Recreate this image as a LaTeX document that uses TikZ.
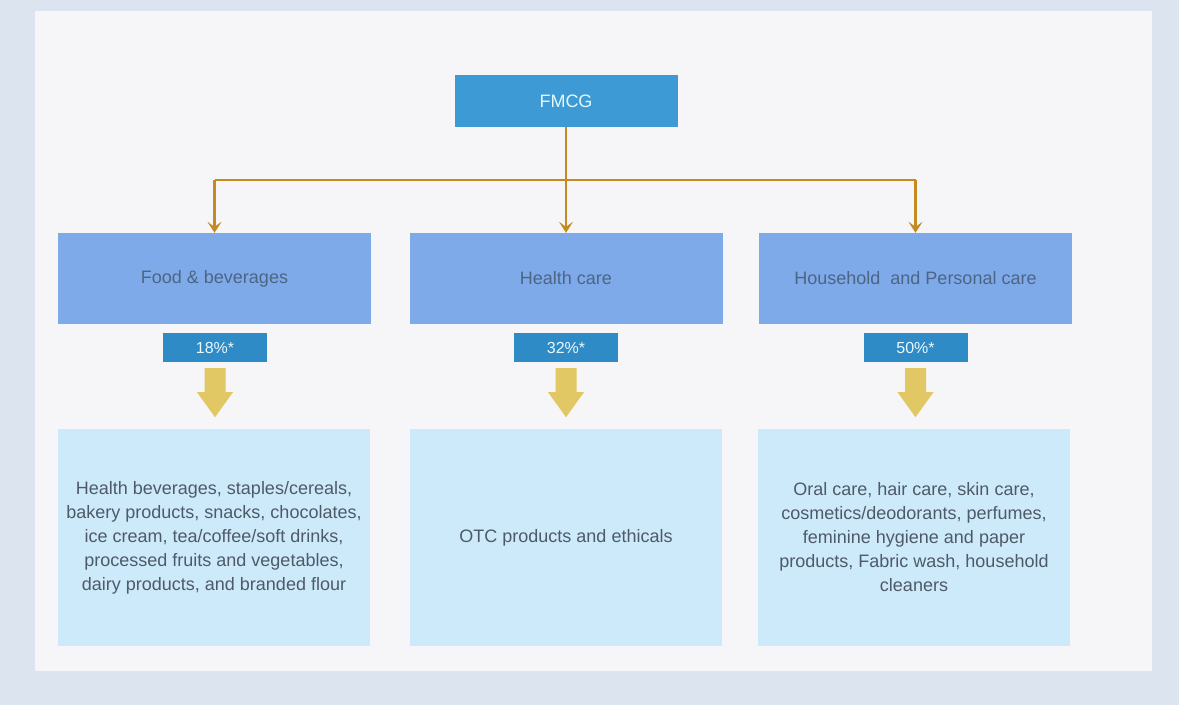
\documentclass[tikz,border=0pt]{standalone}
\usepackage{fontspec}
\setmainfont{Liberation Sans}
\usetikzlibrary{arrows.meta,calc}
\definecolor{outerbg}{HTML}{DCE4F0}
\definecolor{innerbg}{HTML}{F6F6F8}
\definecolor{topblue}{HTML}{3D9AD4}
\definecolor{catblue}{HTML}{7FAAEA}
\definecolor{pctblue}{HTML}{2E8BC6}
\definecolor{descblue}{HTML}{CDEAFB}
\definecolor{gold}{HTML}{C38B22}
\definecolor{yarrow}{HTML}{E2C864}
\definecolor{cattext}{HTML}{4C6585}
\definecolor{desctext}{HTML}{4E5A68}
\tikzset{
  topbox/.style={fill=topblue, minimum width=223pt, minimum height=52pt, inner sep=0pt,
    text=white!90!cyan, font=\fontsize{18}{20}\selectfont},
  catbox/.style={fill=catblue, minimum width=313pt, minimum height=91pt, inner sep=0pt,
    text=cattext, font=\fontsize{18}{20}\selectfont},
  pctbox/.style={fill=pctblue, minimum width=104pt, minimum height=29pt, inner sep=0pt,
    text=white!92!cyan, font=\fontsize{16}{18}\selectfont},
  descbox/.style={fill=descblue, minimum width=312pt, minimum height=217pt, inner sep=0pt,
    text=desctext, align=center, font=\fontsize{18}{24}\selectfont},
  conn/.style={draw=gold, line width=2.6pt},
  connarrow/.style={conn, -{Stealth[length=11pt,width=14pt,inset=5pt]}},
  blockarrow/.style={fill=yarrow, draw=none}
}
\begin{document}
\begin{tikzpicture}[x=1pt,y=-1pt]
\fill[outerbg] (0,0) rectangle (1179,705);
\useasboundingbox (0,0) rectangle (1179,705);
\fill[innerbg] (35,11) rectangle (1152,671);

\node[topbox] (fmcg) at (566,101) {FMCG};

\node[catbox] (fb) at (214.5,278.5) {Food \& beverages};
\node[catbox] (hc) at (566,278.5) {Health care};
\node[catbox] (hp) at (915.5,278.5) {Household\ \ and Personal care};

\node[pctbox] (p1) at (215,347.5) {18\%*};
\node[pctbox] (p2) at (566,347.5) {32\%*};
\node[pctbox] (p3) at (915.5,347.5) {50\%*};

\node[descbox] (d1) at (214,537.5) {Health beverages, staples/cereals,\\bakery products, snacks, chocolates,\\ice cream, tea/coffee/soft drinks,\\processed fruits and vegetables,\\dairy products, and branded flour};
\node[descbox] (d2) at (566,537.5) {OTC products and ethicals};
\node[descbox] (d3) at (914,537.5) {Oral care, hair care, skin care,\\cosmetics/deodorants, perfumes,\\feminine hygiene and paper\\products, Fabric wash, household\\cleaners};

\coordinate (j) at (566,180);
\draw[conn] (fmcg.south) -- (j);
\draw[conn] (fb.north |- j) -- (hp.north |- j);
\draw[connarrow] (fb.north |- j) -- (fb.north);
\draw[connarrow] (j) -- (hc.north);
\draw[connarrow] (hp.north |- j) -- (hp.north);

\foreach \p in {p1,p2,p3}{
  \fill[blockarrow] ($(\p.south)+(-10.5,6)$) -- ($(\p.south)+(10.5,6)$) -- ($(\p.south)+(10.5,30)$)
    -- ($(\p.south)+(18,30)$) -- ($(\p.south)+(0,55)$) -- ($(\p.south)+(-18,30)$)
    -- ($(\p.south)+(-10.5,30)$) -- cycle;
}
\end{tikzpicture}
\end{document}
